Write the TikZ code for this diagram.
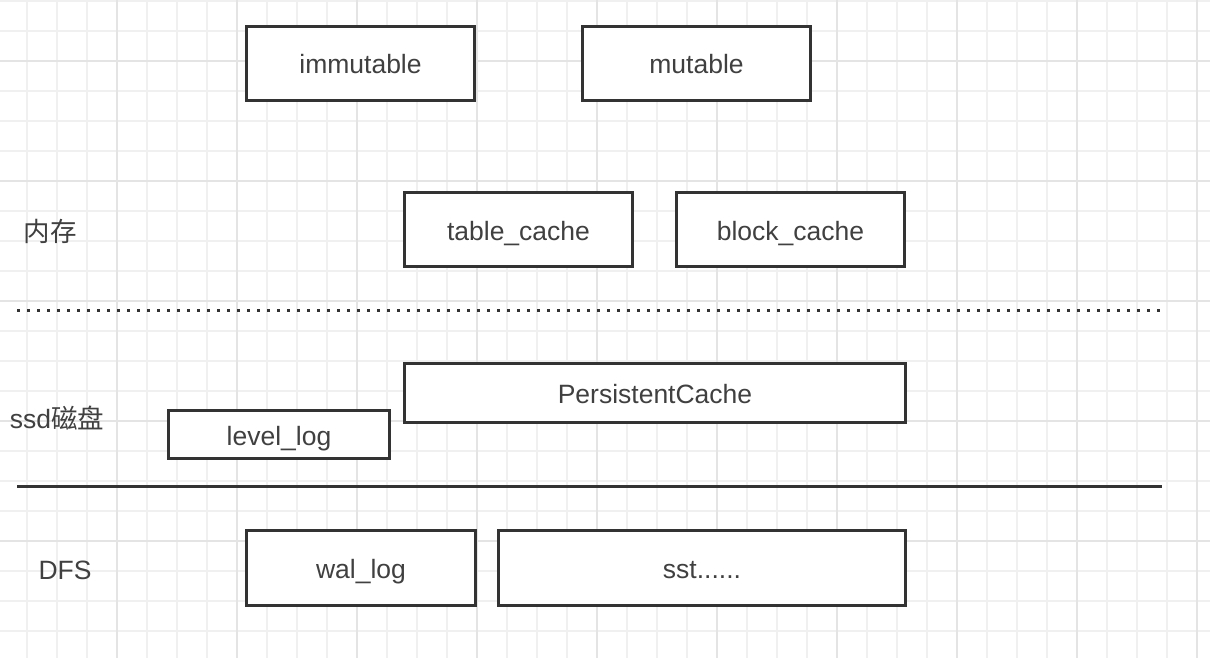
\documentclass[tikz,border=0pt]{standalone}
\usepackage{fontspec}
\setmainfont{Liberation Sans}
\newfontfamily\cjk{Noto Sans CJK SC}
\definecolor{gridminor}{HTML}{F0F0F0}
\definecolor{gridmajor}{HTML}{E4E4E4}
\definecolor{ink}{HTML}{333333}
\definecolor{textink}{HTML}{404040}

\begin{document}
\begin{tikzpicture}[x=1pt,y=-1pt,
  box/.style={draw=ink, line width=3pt, fill=white, inner sep=0pt,
    minimum width=228pt, minimum height=74pt, text=textink,
    text height=21pt, text depth=0pt,
    font=\fontsize{26.5}{30}\selectfont},
  lbl/.style={text=textink, inner sep=0pt, font=\fontsize{26.5}{30}\selectfont}]
% background and grid
\path[fill=white] (0,0) rectangle (1210,658);
\useasboundingbox (0,0) rectangle (1210,658);
\foreach \gx in {27,57,...,1197} \draw[gridminor, line width=1.2pt] (\gx,0) -- (\gx,658);
\foreach \gy in {1,31,...,631} \draw[gridminor, line width=1.2pt] (0,\gy) -- (1210,\gy);
\foreach \gx in {117,237,...,1197} \draw[gridmajor, line width=1.2pt] (\gx,0) -- (\gx,658);
\foreach \gy in {61,181,...,541} \draw[gridmajor, line width=1.2pt] (0,\gy) -- (1210,\gy);
% memory
\node[box] (immutable) at (360.5,63.5) {immutable};
\node[box] (mutable) at (696.5,63.5) {mutable};
\node[box] (tablecache) at (518.5,229.5) {table\_cache};
\node[box] (blockcache) at (790.5,229.5) {block\_cache};
\node[lbl] (mem) at (50,231) {\cjk 内存};
% separators
\coordinate (dotL) at (17,310);
\coordinate (dotR) at (1160,310);
\path[draw=ink, line width=3pt, dash pattern=on 3pt off 7pt] (dotL) -- (dotR);
\coordinate (solL) at (17,486);
\coordinate (solR) at (1162,486);
\path[draw=ink, line width=3pt] (solL) -- (solR);
% ssd
\node[box, minimum width=501pt, minimum height=59pt] (pcache) at (655,393) {PersistentCache};
\node[box, minimum width=221pt, minimum height=48pt] (levellog) at (279,434.5) {level\_log};
\node[lbl] (ssd) at (57,418) {ssd{\cjk 磁盘}};
% dfs
\node[box, minimum width=229pt, minimum height=75pt] (wallog) at (361,568) {wal\_log};
\node[box, minimum width=407pt, minimum height=75pt] (sst) at (702,568) {sst......};
\node[lbl] (dfs) at (65,570) {DFS};
\end{tikzpicture}
\end{document}
